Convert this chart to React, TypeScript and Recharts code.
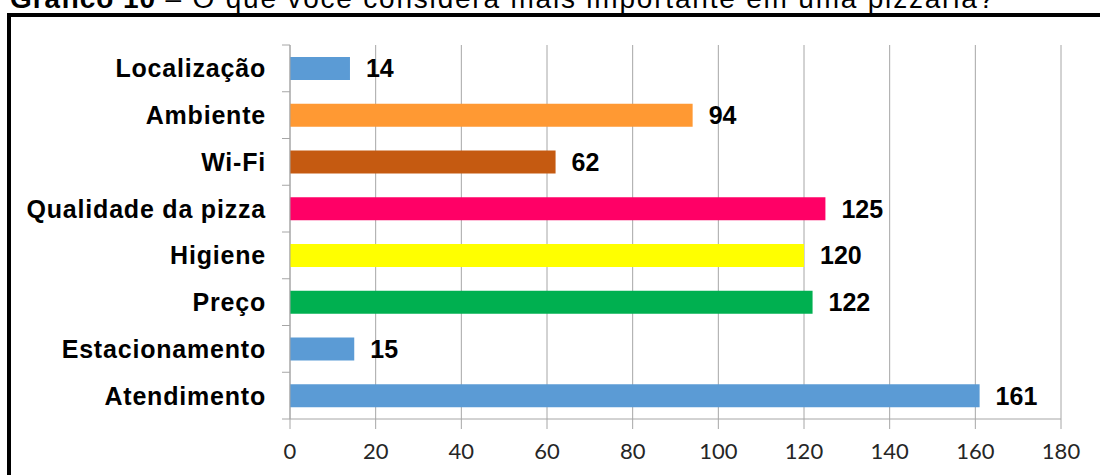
import { BarChart, Bar, Cell, XAxis, YAxis, CartesianGrid, LabelList } from "recharts";

const categories = [
  "Localização",
  "Ambiente",
  "Wi-Fi",
  "Qualidade da pizza",
  "Higiene",
  "Preço",
  "Estacionamento",
  "Atendimento",
];
const votes = [14, 94, 62, 125, 120, 122, 15, 161];
const xTicks = [0, 20, 40, 60, 80, 100, 120, 140, 160, 180];

const barColors = [
  "#5B9BD5",
  "#FF9933",
  "#C55A11",
  "#FF0066",
  "#FFFF00",
  "#00B050",
  "#5B9BD5",
  "#5B9BD5",
];

const data = categories.map((name, i) => ({ name, votes: votes[i] }));

const WIDTH = 1100;
const HEIGHT = 475;
const MARGIN = { top: 45, right: 39, bottom: 0, left: 10 };
const X_AXIS_HEIGHT = 56;
const TICK_SIZE = 8;
const TICK_MARGIN = 16;
const GRID = "#A6A6A6";
const ARIAL = "'Liberation Sans', Arial, sans-serif";

// height of one category row, used for the boundary tick marks
const band = (HEIGHT - MARGIN.top - MARGIN.bottom - X_AXIS_HEIGHT) / categories.length;

const CategoryTick = (props: any) => {
  const { x, y, payload, index } = props;
  const axisX = x + TICK_MARGIN + TICK_SIZE;
  const last = index === categories.length - 1;
  return (
    <g>
      <line x1={axisX - TICK_SIZE} x2={axisX} y1={y - band / 2} y2={y - band / 2} stroke={GRID} />
      {last && (
        <line x1={axisX - TICK_SIZE} x2={axisX} y1={y + band / 2} y2={y + band / 2} stroke={GRID} />
      )}
      <text
        x={x}
        y={y}
        textAnchor="end"
        dominantBaseline="central"
        fontFamily={ARIAL}
        fontWeight="bold"
        fontSize={25}
        letterSpacing={0.8}
        fill="#000"
      >
        {payload.value}
      </text>
    </g>
  );
};

export default function App() {
  return (
    <div
      style={{
        position: "fixed",
        left: 0,
        top: 0,
        width: WIDTH,
        height: HEIGHT,
        overflow: "hidden",
        background: "#fff",
      }}
    >
      {/* frame around the chart, open on the right and bottom */}
      <div
        style={{
          position: "absolute",
          left: 7,
          top: 13,
          width: 1200,
          height: 600,
          border: "4px solid #000",
        }}
      />
      <div style={{ position: "absolute", left: 0, top: 0 }}>
        <BarChart width={WIDTH} height={HEIGHT} data={data} layout="vertical" margin={MARGIN}>
          <CartesianGrid horizontal={false} stroke={GRID} />
          <XAxis
            type="number"
            domain={[0, 180]}
            ticks={xTicks}
            height={X_AXIS_HEIGHT}
            tickSize={10}
            tickMargin={14}
            stroke={GRID}
            tick={{ fontFamily: "Lato, sans-serif", fontSize: 22, fill: "#262626" }}
          />
          <YAxis
            type="category"
            dataKey="name"
            width={280}
            interval={0}
            tickSize={TICK_SIZE}
            tickMargin={TICK_MARGIN}
            tickLine={false}
            stroke={GRID}
            tick={<CategoryTick />}
          />
          <Bar dataKey="votes" barSize={23} isAnimationActive={false}>
            {data.map((d, i) => (
              <Cell key={d.name} fill={barColors[i]} />
            ))}
            <LabelList
              dataKey="votes"
              position="right"
              offset={16}
              fill="#000"
              fontFamily={ARIAL}
              fontWeight="bold"
              fontSize={25}
            />
          </Bar>
        </BarChart>
      </div>
      <svg
        width={WIDTH}
        height={20}
        style={{ position: "absolute", left: 0, top: 0, zIndex: 2 }}
      >
        <text x={10} y={8} fontFamily={ARIAL} fontSize={28} fill="#000">
          <tspan fontWeight="bold" letterSpacing={0.9}>Gráfico 10</tspan>
          <tspan letterSpacing={1.8}> – O que você considera mais importante em uma pizzaria?</tspan>
        </text>
      </svg>
    </div>
  );
}
